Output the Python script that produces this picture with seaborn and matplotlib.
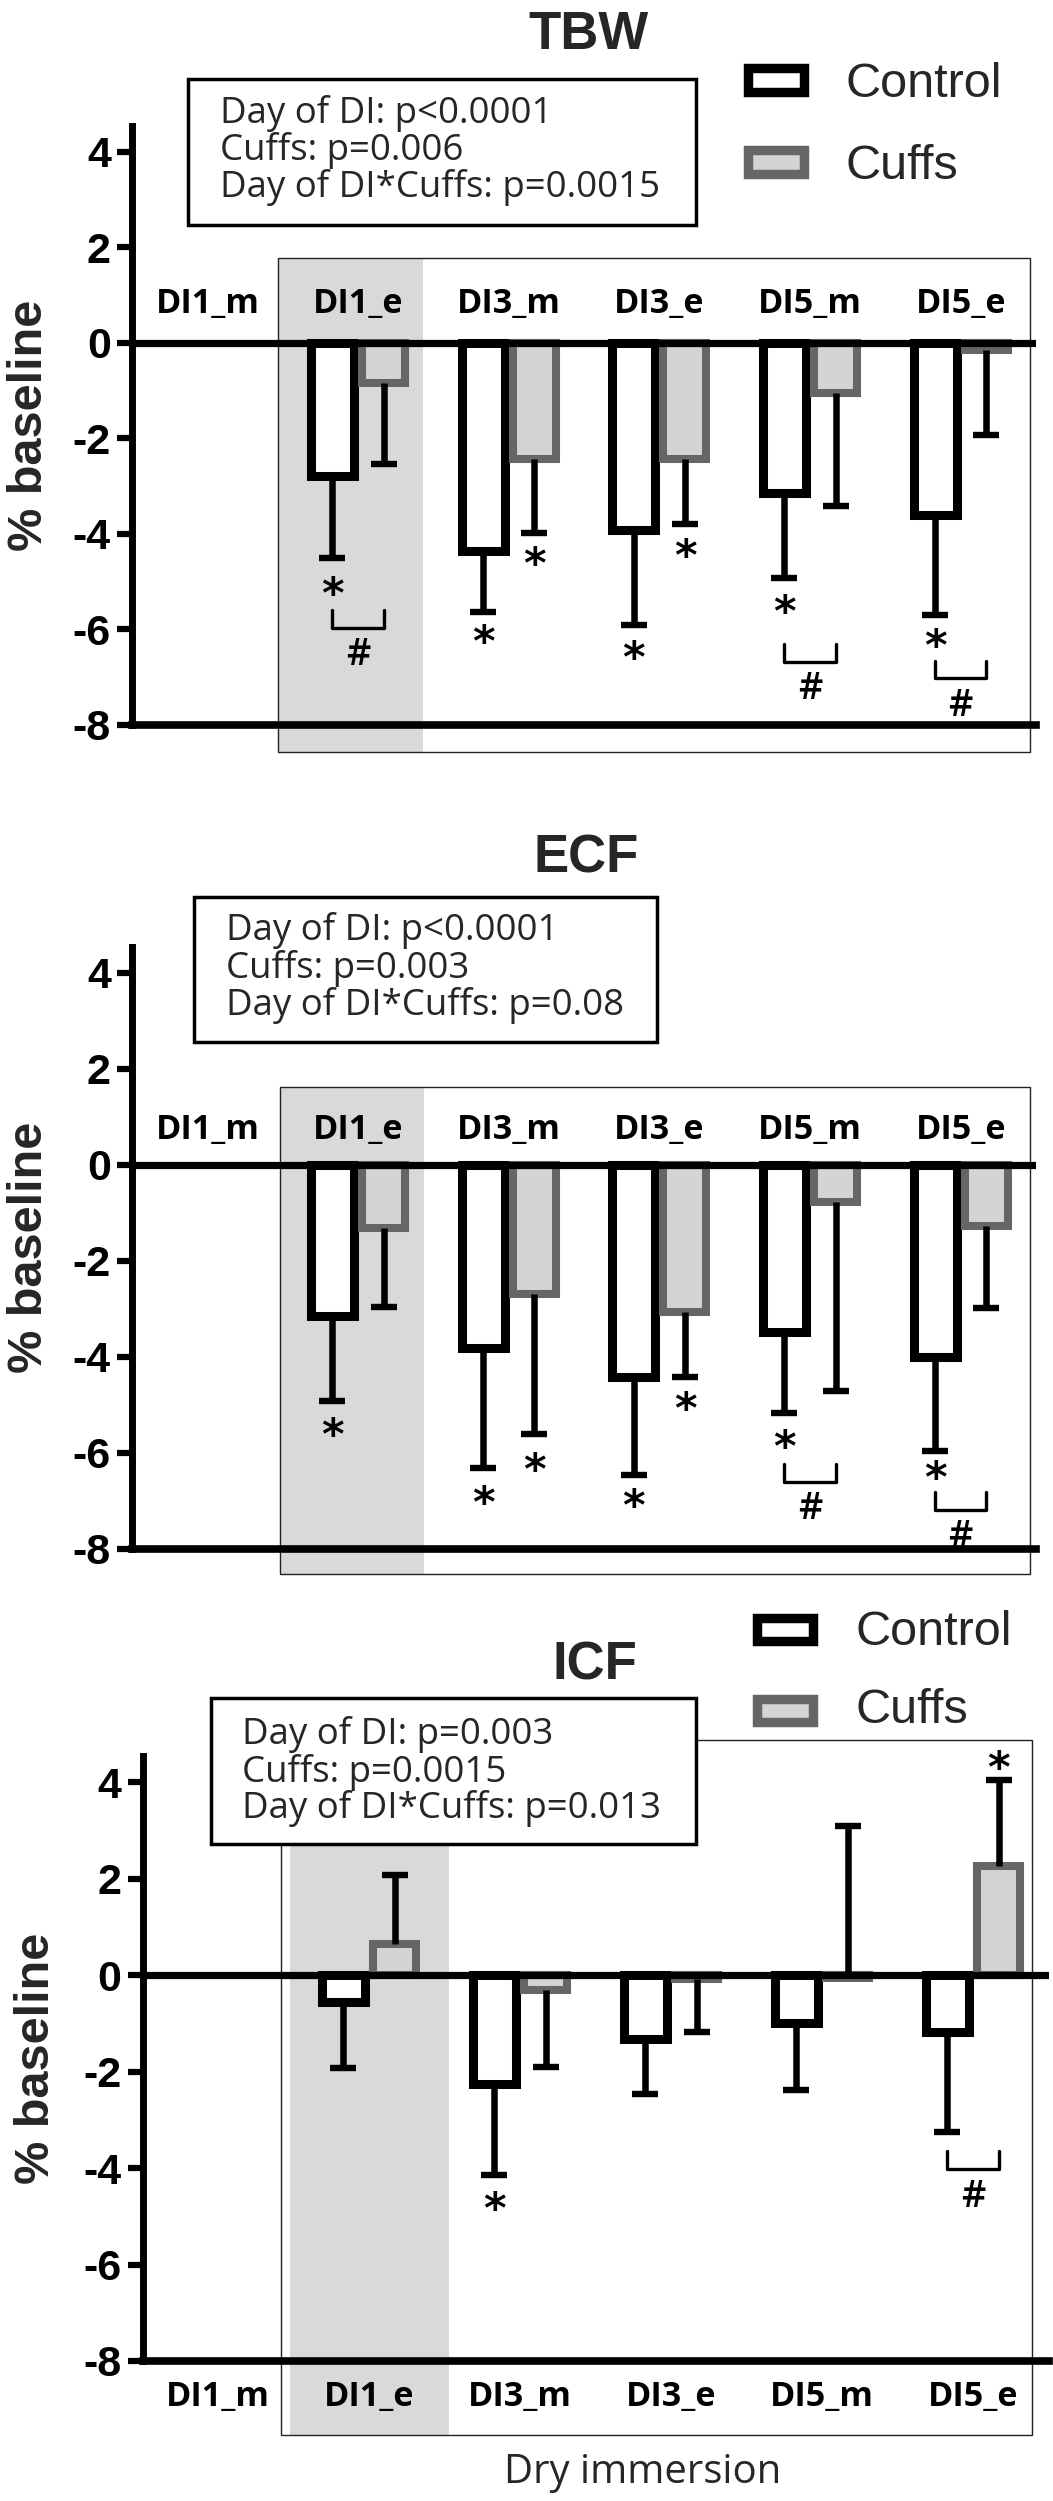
"""
Body water compartments during dry immersion (TBW / ECF / ICF), control vs cuffs.
Saves out.png
"""

import numpy as np
import pandas as pd
import matplotlib
matplotlib.use("Agg")
import matplotlib.pyplot as plt
from matplotlib.patches import Rectangle
from matplotlib import font_manager
from matplotlib.font_manager import FontProperties
from matplotlib.textpath import TextPath
import seaborn as sns

# ── Data (% of baseline) ─────────────────────────────────────────────────────
categories = ["DI1_m", "DI1_e", "DI3_m", "DI3_e", "DI5_m", "DI5_e"]
groups = ["Control", "Cuffs"]
nan = np.nan

# signed SD: the error bar runs from the mean to mean + sd
tbw_control    = [nan, -2.78, -4.36, -3.92, -3.15, -3.61]
tbw_control_sd = [nan, -1.72, -1.27, -1.98, -1.77, -2.08]
tbw_cuffs      = [nan, -0.84, -2.42, -2.42, -1.04, -0.15]
tbw_cuffs_sd   = [nan, -1.70, -1.56, -1.38, -2.37, -1.77]
tbw_control_star = [nan, -5.10, -6.10, -6.43, -5.47, -6.17]
tbw_cuffs_star   = [nan, nan, -4.46, -4.30, nan, nan]
tbw_hash         = [nan, -5.97, nan, nan, -6.68, -7.02]
tbw_stats = ["Day of DI: p<0.0001", "Cuffs: p=0.006", "Day of DI*Cuffs: p=0.0015"]

ecf_control    = [nan, -3.15, -3.82, -4.41, -3.48, -4.01]
ecf_control_sd = [nan, -1.76, -2.50, -2.05, -1.68, -1.95]
ecf_cuffs      = [nan, -1.32, -2.68, -3.06, -0.77, -1.27]
ecf_cuffs_sd   = [nan, -1.63, -2.93, -1.35, -3.93, -1.71]
ecf_control_star = [nan, -5.45, -6.88, -6.94, -5.71, -6.35]
ecf_cuffs_star   = [nan, nan, -6.19, -4.91, nan, nan]
ecf_hash         = [nan, nan, nan, nan, -6.60, -7.18]
ecf_stats = ["Day of DI: p<0.0001", "Cuffs: p=0.003", "Day of DI*Cuffs: p=0.08"]

icf_control    = [nan, -0.56, -2.26, -1.32, -0.99, -1.18]
icf_control_sd = [nan, -1.37, -1.89, -1.15, -1.39, -2.08]
icf_cuffs      = [nan, 0.64, -0.31, -0.08, -0.06, 2.25]
icf_cuffs_sd   = [nan, 1.43, -1.59, -1.10, 3.14, 1.80]
icf_control_star = [nan, nan, -4.69, nan, nan, nan]
icf_cuffs_star   = [nan, nan, nan, nan, nan, 4.45]
icf_hash         = [nan, nan, nan, nan, nan, -4.02]
icf_stats = ["Day of DI: p=0.003", "Cuffs: p=0.0015", "Day of DI*Cuffs: p=0.013"]

yticks = [-8, -6, -4, -2, 0, 2, 4]

# ── Style ─────────────────────────────────────────────────────────────────────
sns.set_theme(style="white")


def pick(*names):
    for n in names:
        try:
            font_manager.findfont(FontProperties(family=n), fallback_to_default=False)
            return n
        except ValueError:
            pass
    return "DejaVu Sans"


SANS = pick("Liberation Sans", "Arial", "DejaVu Sans")
HUMAN = pick("Open Sans", "Lato", "DejaVu Sans")
plt.rcParams["font.family"] = [SANS, "DejaVu Sans"]
plt.rcParams["axes.unicode_minus"] = False

CUFF_FILL = "#d4d4d4"
CUFF_EDGE = "#666666"
SHADE = "#d9d9d9"

W, H = 1053, 2501
fig = plt.figure(figsize=(W / 100, H / 100), dpi=100)


def fx(x):
    return x / W


def fy(y):
    return 1 - y / H


def glyph_fit(ch, family, ink_px, weight="normal"):
    """font size (pt) giving the glyph an ink height of ink_px, plus its ink centre"""
    tp = TextPath((0, 0), ch, size=100, prop=FontProperties(family=family, weight=weight))
    ext = tp.get_extents()
    size = ink_px * 0.72 / ext.height * 100
    k = size / 100
    return size, (ext.x0 + ext.x1) / 2 * k, (ext.y0 + ext.y1) / 2 * k, weight


def width_fit(text, family, width_px, weight="normal"):
    """font size (pt) giving the text an ink width of width_px"""
    tp = TextPath((0, 0), text, size=100, prop=FontProperties(family=family, weight=weight))
    return width_px * 0.72 / tp.get_extents().width * 100


STAR = glyph_fit("*", "DejaVu Sans", 20, "bold")
HASH = glyph_fit("#", HUMAN, 27, "semibold")
STATS_SIZE = width_fit(tbw_stats[2], HUMAN, 435)
CAT_SIZE = width_fit("DI1_m", HUMAN, 98, "bold")
XLAB_SIZE = width_fit("Dry immersion", HUMAN, 270)


def mark(ax, x, y, ch, fit, family):
    size, cx, cy, weight = fit
    ax.annotate(ch, (x, y), xytext=(-cx, -cy), textcoords="offset points",
                ha="left", va="baseline", family=family, fontsize=size,
                fontweight=weight, color="black", zorder=6, annotation_clip=False)


# layout of each panel in image pixels
layout = {
    "TBW": dict(axes=(132, 125.7, 1036, 725), title=(588, 49),
                box=(188, 79, 696, 225), stats_x=220, stats_y=(123, 160, 197),
                legend=(743, 845, (80, 162), (97, 179)),
                frame=(0.47, 5.46, -8.57, 1.78), shade=(0.47, 1.43),
                label_y=0.63, ylabel_x=30, xlabel=False),
    "ECF": dict(axes=(132, 946.6, 1036, 1549), title=(586, 872),
                box=(194, 897, 657, 1042), stats_x=226, stats_y=(940, 978, 1015),
                legend=None,
                frame=(0.48, 5.46, -8.52, 1.63), shade=(0.48, 1.44),
                label_y=0.55, ylabel_x=30, xlabel=False),
    "ICF": dict(axes=(142.5, 1755.5, 1048.5, 2361), title=(595, 1680),
                box=(211, 1698, 696, 1844), stats_x=242, stats_y=(1744, 1782, 1818),
                legend=(752, 856, (1629, 1710), (1645, 1723)),
                frame=(0.42, 5.39, -9.53, 4.87), shade=(0.48, 1.53),
                label_y=-8.93, ylabel_x=37, xlabel=True),
}

panel_data = {
    "TBW": (tbw_control, tbw_control_sd, tbw_cuffs, tbw_cuffs_sd,
            tbw_control_star, tbw_cuffs_star, tbw_hash, tbw_stats),
    "ECF": (ecf_control, ecf_control_sd, ecf_cuffs, ecf_cuffs_sd,
            ecf_control_star, ecf_cuffs_star, ecf_hash, ecf_stats),
    "ICF": (icf_control, icf_control_sd, icf_cuffs, icf_cuffs_sd,
            icf_control_star, icf_cuffs_star, icf_hash, icf_stats),
}

offsets = [-0.17, 0.17]   # dodge of the two hue levels (width 0.68 / 2)
xpos = np.arange(len(categories))

for name, (ctl, ctl_sd, cuf, cuf_sd, ctl_star, cuf_star, hash_y, stats) in panel_data.items():
    L = layout[name]
    x0, y0, x1, y1 = L["axes"]
    ax = fig.add_axes([fx(x0), fy(y1), fx(x1) - fx(x0), fy(y0) - fy(y1)])

    df = pd.DataFrame({
        "cat": categories * 2,
        "group": ["Control"] * len(categories) + ["Cuffs"] * len(categories),
        "value": list(ctl) + list(cuf),
    }).dropna()

    sns.barplot(data=df, x="cat", y="value", hue="group", order=categories,
                hue_order=groups, palette={"Control": "white", "Cuffs": CUFF_FILL},
                width=0.68, gap=0.16, saturation=1, errorbar=None, legend=False,
                ax=ax, zorder=2)
    for cont, ec, lw in zip(ax.containers, ["black", CUFF_EDGE], [6.5, 5.8]):
        for bar in cont:
            bar.set_edgecolor(ec)
            bar.set_linewidth(lw)

    # one-sided SD error bars
    for off, mean, sd in zip(offsets, [ctl, cuf], [ctl_sd, cuf_sd]):
        mean = np.asarray(mean)
        sd = np.asarray(sd)
        lower = np.where(sd < 0, -sd, 0)
        upper = np.where(sd > 0, sd, 0)
        ax.errorbar(xpos + off, mean, yerr=[lower, upper], fmt="none",
                    ecolor="black", elinewidth=4.7, capsize=0, zorder=3)
        ax.plot(xpos + off, mean + sd, ls="none", marker="_", ms=18.5,
                mew=4.6, color="black", zorder=3)

    # significance marks
    for off, stars in zip(offsets, [ctl_star, cuf_star]):
        for i, y in enumerate(stars):
            if not np.isnan(y):
                mark(ax, i + off, y, "*", STAR, "DejaVu Sans")
    for i, y in enumerate(hash_y):
        if not np.isnan(y):
            ax.plot([i + offsets[0], i + offsets[0], i + offsets[1], i + offsets[1]],
                    [y + 0.37, y, y, y + 0.37], color="black", lw=2.4,
                    solid_joinstyle="round", zorder=6, clip_on=False)
            mark(ax, i, y - 0.5, "#", HASH, HUMAN)

    # background frame and shaded first evening
    fl, fr, fb, ft = L["frame"]
    sl, sr = L["shade"]
    ax.add_patch(Rectangle((sl, fb), sr - sl, ft - fb, facecolor=SHADE,
                           edgecolor="none", zorder=0.3, clip_on=False))
    ax.add_patch(Rectangle((fl, fb), fr - fl, ft - fb, facecolor="none",
                           edgecolor="#222222", lw=1, zorder=0.4, clip_on=False))

    ax.axhline(0, color="black", lw=5.2, zorder=4)

    # category labels
    for i, cat in enumerate(categories):
        ax.text(i, L["label_y"], cat, ha="center", va="baseline", family=HUMAN,
                fontweight="bold", fontsize=CAT_SIZE, color="black", zorder=6,
                clip_on=False)

    ax.set_xlim(-0.5, 5.5)
    ax.set_ylim(-8, 4.55)
    ax.set_xticks([])
    ax.set_yticks(yticks)
    ax.set_yticklabels([str(t) for t in yticks])
    ax.tick_params(axis="y", left=True, length=10.8, width=4.5, pad=4.5,
                   labelsize=31, colors="black")
    for lab in ax.get_yticklabels():
        lab.set_fontweight("bold")
    ax.set_xlabel("")
    ax.set_ylabel("")
    ax.patch.set_alpha(0)
    for side in ["top", "right"]:
        ax.spines[side].set_visible(False)
    ax.spines["left"].set_linewidth(5)
    ax.spines["bottom"].set_linewidth(5.5)
    ax.spines["left"].set_color("black")
    ax.spines["bottom"].set_color("black")

    # y label and title
    fig.text(fx(L["ylabel_x"]), fy((y0 + y1) / 2), "% baseline", rotation=90,
             ha="center", va="center", fontsize=35, fontweight="bold")
    tx, ty = L["title"]
    fig.text(fx(tx), fy(ty), name, ha="center", va="baseline", fontsize=38,
             fontweight="bold")

    # statistics box
    bx0, by0, bx1, by1 = L["box"]
    fig.add_artist(Rectangle((fx(bx0), fy(by1)), fx(bx1) - fx(bx0), fy(by0) - fy(by1),
                             transform=fig.transFigure, facecolor="white",
                             edgecolor="black", lw=2.5, zorder=5))
    for line, ly in zip(stats, L["stats_y"]):
        fig.text(fx(L["stats_x"]), fy(ly), line, ha="left", va="baseline",
                 family=HUMAN, fontsize=STATS_SIZE, zorder=6)

    # legend
    if L["legend"] is not None:
        px0, tx0, centers, bases = L["legend"]
        for lab, cy, base, fc, ec in zip(groups, centers, bases,
                                         ["white", CUFF_FILL], ["black", CUFF_EDGE]):
            fig.add_artist(Rectangle((fx(px0 + 4.7), fy(cy + 11.5)), 56 / W, 23 / H,
                                     transform=fig.transFigure, facecolor=fc,
                                     edgecolor=ec, lw=6.8, zorder=5))
            fig.text(fx(tx0), fy(base), lab, ha="left", va="baseline", fontsize=35)

    if L["xlabel"]:
        fig.text(fx(643), fy(2483), "Dry immersion", ha="center", va="baseline",
                 family=HUMAN, fontsize=XLAB_SIZE)

plt.savefig("out.png", dpi=100)
plt.close()
